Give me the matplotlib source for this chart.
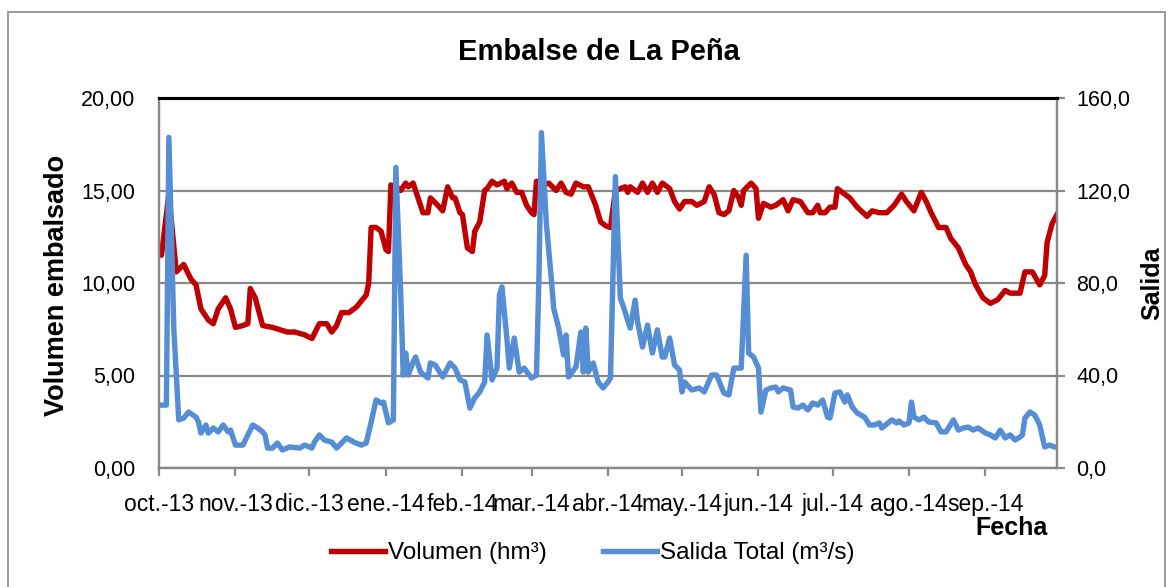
import numpy as np
import pandas as pd
import matplotlib
matplotlib.use("Agg")
import matplotlib.pyplot as plt
from matplotlib.ticker import FuncFormatter
from matplotlib.patches import Rectangle
from matplotlib.lines import Line2D

plt.rcParams['font.family'] = ['Liberation Sans', 'DejaVu Sans']

# Volumen embalsado (hm3): dia desde 1-oct-2013, valor
vol_days = [0, 1, 4, 7, 10, 13, 15, 17, 20, 22, 24, 27, 29, 31, 34, 36, 37, 39, 42, 46,
            52, 55, 59, 62, 65, 68, 70, 72, 74, 77, 80, 84, 85, 86, 88, 90, 92, 93, 94, 97,
            98, 100, 101, 103, 105, 107, 109, 110, 113, 115, 117, 119, 120, 122, 123, 125, 127, 128, 130, 132,
            133, 135, 137, 140, 141, 143, 145, 147, 149, 151, 152, 153, 156, 158, 161, 163, 165, 167, 169, 172,
            174, 177, 179, 181, 183, 185, 187, 189, 190, 191, 194, 196, 198, 200, 202, 204, 207, 209, 211, 213,
            216, 218, 221, 223, 225, 227, 229, 231, 233, 235, 236, 237, 240, 242, 243, 245, 248, 250, 253, 255,
            257, 260, 263, 265, 267, 268, 270, 272, 274, 275, 277, 280, 283, 287, 289, 292, 295, 298, 301, 303,
            306, 309, 311, 313, 316, 319, 321, 324, 327, 329, 331, 334, 337, 340, 343, 345, 349, 351, 354, 357,
            359, 360, 362, 364]
vol_vals = [11.7, 11.5, 14.8, 10.6, 11.0, 10.2, 9.9, 8.6, 8.0, 7.8, 8.6, 9.2, 8.6, 7.6, 7.7, 7.8, 9.7, 9.2, 7.7, 7.6,
            7.35, 7.35, 7.2, 7.0, 7.8, 7.8, 7.35, 7.7, 8.4, 8.4, 8.7, 9.35, 10.0, 13.0, 13.0, 12.8, 11.8, 11.7, 15.3, 15.1,
            15.0, 15.4, 15.2, 15.4, 14.6, 13.8, 13.8, 14.6, 14.2, 13.9, 15.2, 14.6, 14.6, 13.8, 13.7, 11.9, 11.7, 12.8, 13.3, 15.0,
            15.1, 15.5, 15.3, 15.5, 15.1, 15.4, 14.9, 14.9, 14.2, 13.8, 13.7, 15.5, 15.3, 15.4, 15.0, 15.4, 14.9, 14.8, 15.4, 15.2,
            15.2, 14.2, 13.3, 13.1, 13.0, 15.0, 15.1, 15.2, 14.9, 15.2, 14.9, 15.4, 14.9, 15.4, 14.9, 15.4, 15.1, 14.4, 14.0, 14.4,
            14.4, 14.2, 14.4, 15.2, 14.8, 13.8, 13.7, 13.9, 15.0, 14.6, 14.2, 15.0, 15.4, 15.1, 13.5, 14.3, 14.1, 14.2, 14.5, 13.9,
            14.5, 14.4, 13.8, 13.8, 14.2, 13.8, 13.8, 14.1, 14.1, 15.1, 14.9, 14.6, 14.1, 13.6, 13.9, 13.8, 13.8, 14.2, 14.8, 14.4,
            13.9, 14.9, 14.4, 13.8, 13.0, 13.0, 12.4, 11.9, 11.0, 10.6, 9.9, 9.2, 8.9, 9.1, 9.6, 9.45, 9.45, 10.6, 10.6, 9.9,
            10.4, 12.2, 13.2, 13.7]

# Salida total (m3/s)
sal_days = [0, 3, 4, 6, 8, 10, 12, 15, 16, 17, 19, 20, 22, 24, 26, 28, 29, 31, 34, 36,
            38, 40, 42, 43, 44, 46, 48, 50, 53, 57, 59, 61, 62, 63, 65, 67, 70, 72, 74, 76,
            79, 82, 84, 86, 88, 90, 91, 93, 95, 96, 98, 99, 100, 101, 103, 104, 106, 109, 110, 112,
            115, 118, 120, 122, 124, 126, 128, 130, 132, 133, 135, 137, 138, 139, 141, 142, 144, 146, 148, 151,
            153, 154, 155, 157, 159, 160, 162, 164, 165, 166, 169, 171, 172, 173, 174, 176, 178, 180, 182, 183,
            185, 187, 188, 191, 193, 194, 196, 198, 200, 202, 204, 205, 207, 209, 211, 212, 213, 216, 219, 221,
            224, 226, 229, 231, 233, 236, 238, 239, 241, 243, 244, 246, 248, 250, 251, 253, 256, 257, 259, 261,
            263, 265, 267, 269, 271, 272, 274, 276, 278, 279, 281, 283, 286, 288, 290, 292, 293, 297, 299, 300,
            302, 304, 305, 306, 308, 310, 312, 315, 317, 319, 320, 322, 324, 326, 328, 330, 332, 335, 337, 339,
            341, 343, 345, 347, 349, 350, 351, 353, 355, 357, 359, 361, 363, 364]
sal_vals = [27.2, 27.2, 143.0, 60.5, 20.8, 21.6, 24.2, 22.0, 19.9, 15.1, 18.6, 15.1, 17.3, 15.6, 18.6, 15.6, 16.4, 9.9, 9.9, 14.3,
            18.6, 17.3, 15.6, 14.3, 8.6, 8.6, 10.8, 7.8, 9.1, 8.6, 9.9, 9.1, 8.6, 11.2, 14.3, 12.1, 11.2, 8.6, 10.8, 13.0,
            11.2, 9.9, 10.8, 19.9, 29.4, 28.1, 28.5, 19.5, 20.8, 130.0, 74.8, 40.2, 49.7, 40.2, 45.8, 48.0, 41.5, 38.9, 45.4, 44.5,
            39.4, 45.4, 43.2, 38.1, 37.2, 25.9, 30.3, 32.9, 37.2, 57.5, 38.1, 43.2, 74.8, 78.3, 56.2, 43.2, 56.2, 41.5, 43.2, 38.9,
            40.2, 82.0, 145.0, 106.0, 82.0, 69.0, 60.5, 48.9, 57.5, 39.4, 43.7, 58.8, 41.5, 60.5, 41.5, 45.4, 37.2, 34.6, 37.2, 38.9,
            126.0, 73.5, 70.5, 60.5, 72.6, 63.1, 52.3, 61.8, 49.7, 59.7, 48.0, 48.0, 56.2, 44.5, 42.4, 32.9, 37.2, 33.7, 34.6, 32.9,
            40.2, 40.2, 32.4, 31.6, 43.2, 43.2, 92.0, 49.7, 48.0, 43.2, 24.2, 33.7, 34.6, 35.0, 32.9, 34.6, 33.7, 26.4, 25.9, 27.2,
            25.1, 28.1, 27.2, 29.4, 22.0, 21.6, 32.4, 32.9, 28.5, 31.6, 26.4, 23.8, 22.0, 18.6, 18.6, 19.5, 17.3, 20.8, 19.5, 20.3,
            18.6, 19.5, 28.5, 22.0, 20.8, 22.0, 19.9, 19.5, 15.6, 15.6, 17.3, 20.8, 16.4, 17.3, 17.7, 16.4, 17.3, 15.1, 14.3, 13.0,
            16.4, 13.0, 14.3, 12.1, 13.4, 14.3, 21.6, 24.2, 22.9, 18.6, 9.1, 9.9, 9.1, 9.1]

month_labels = ['oct.-13', 'nov.-13', 'dic.-13', 'ene.-14', 'feb.-14', 'mar.-14',
                'abr.-14', 'may.-14', 'jun.-14', 'jul.-14', 'ago.-14', 'sep.-14']

start = pd.Timestamp('2013-10-01')
vol_dates = start + pd.to_timedelta(vol_days, unit='D')
sal_dates = start + pd.to_timedelta(sal_days, unit='D')
month_ticks = pd.date_range(start, periods=12, freq='MS')

red = '#C00000'
blue = '#558ED5'
grey = '#898989'

fig = plt.figure(figsize=(11.74, 5.87), dpi=100)
ax = fig.add_axes([159 / 1174, 1 - 468 / 587, (1057 - 159) / 1174, (468 - 98) / 587])
ax2 = ax.twinx()

ax.plot(vol_dates, vol_vals, color=red, lw=3.9, solid_joinstyle='round')
ax2.plot(sal_dates, sal_vals, color=blue, lw=3.9, solid_joinstyle='round')

ax.set_xlim(start, pd.Timestamp('2014-09-30'))
ax.set_ylim(0, 20)
ax2.set_ylim(0, 160)
ax.set_yticks([0, 5, 10, 15, 20])
ax2.set_yticks([0, 40, 80, 120, 160])
ax.yaxis.set_major_formatter(FuncFormatter(lambda v, p: f"{v:.2f}".replace('.', ',')))
ax2.yaxis.set_major_formatter(FuncFormatter(lambda v, p: f"{v:.1f}".replace('.', ',')))
ax.set_xticks(month_ticks)
ax.set_xticklabels(month_labels)

ax.grid(axis='y', color=grey, lw=1.6)
ax.set_axisbelow(True)

for a in (ax, ax2):
    for s in ('left', 'right', 'bottom'):
        a.spines[s].set_color(grey)
        a.spines[s].set_linewidth(1.6)
    a.spines['top'].set_color('black')
    a.spines['top'].set_linewidth(2.2)

ax.tick_params(axis='y', length=0, pad=17, labelsize=15.5)
ax2.tick_params(axis='y', length=6, width=1.6, color=grey, pad=8, labelsize=15.5)
ax.tick_params(axis='x', length=6, width=1.6, color=grey, pad=12, labelsize=16.5)

fig.text(599 / 1174, 1 - 52 / 587, 'Embalse de La Peña', ha='center', va='center',
         fontsize=21, fontweight='bold')
fig.text(57 / 1174, 1 - 285 / 587, 'Volumen embalsado', rotation=90, ha='center', va='center',
         fontsize=19.5, fontweight='bold')
fig.text(1152 / 1174, 1 - 283 / 587, 'Salida', rotation=90, ha='center', va='center',
         fontsize=18, fontweight='bold')
fig.text(1048 / 1174, 1 - 528 / 587, 'Fecha', ha='right', va='center',
         fontsize=18, fontweight='bold')

handles = [Line2D([], [], color=red, lw=3.9), Line2D([], [], color=blue, lw=3.9)]
fig.legend(handles, ['Volumen (hm³)', 'Salida Total (m³/s)'], loc='center',
           bbox_to_anchor=(593 / 1174, 1 - 553 / 587), ncol=2, frameon=False,
           fontsize=17.5, handlelength=2.2, handletextpad=0.15, columnspacing=2.3)

fig.patches.append(Rectangle((8 / 1174, -0.01), (1165 - 8) / 1174, 1 - 12 / 587 + 0.01,
                             transform=fig.transFigure, fill=False, edgecolor=grey, lw=1.2))

fig.savefig('out.png', dpi=100)
